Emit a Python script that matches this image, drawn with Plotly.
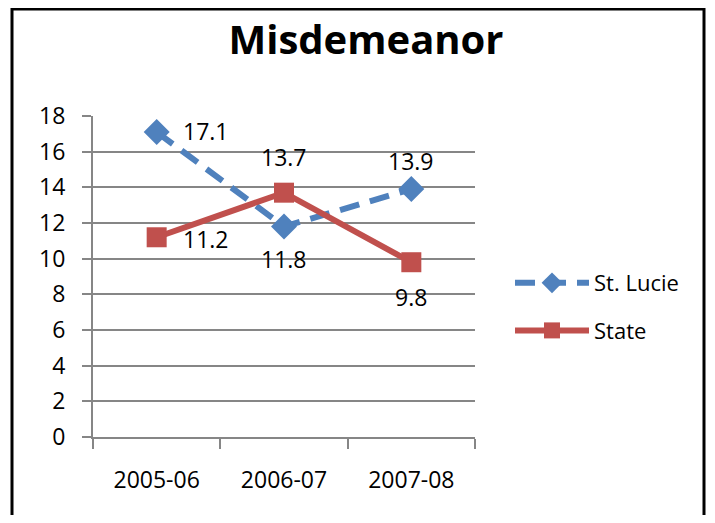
import plotly.graph_objects as go

categories = ["2005-06", "2006-07", "2007-08"]
st_lucie = [17.1, 11.8, 13.9]
state = [11.2, 13.7, 9.8]
y_ticks = [0, 2, 4, 6, 8, 10, 12, 14, 16, 18]

BLUE = "#4F81BD"
RED = "#C0504D"
GRID = "#868686"
FONT = "Open Sans"

OFF = 8  # page body margin
W, H = 715 - 2 * OFF, 523 - 2 * OFF

fig = go.Figure()
fig.add_trace(go.Scatter(
    x=categories, y=st_lucie, name="St. Lucie", mode="lines+markers",
    line=dict(color=BLUE, width=6, dash="20px,11px"),
    marker=dict(symbol="diamond", size=20, color=BLUE),
    legendgroup="a",
))
fig.add_trace(go.Scatter(
    x=categories, y=state, name="State", mode="lines+markers",
    line=dict(color=RED, width=6),
    marker=dict(symbol="square", size=20, color=RED),
    legendgroup="b",
))

# data labels: (xshift, yshift, anchor)
lucie_pos = [(24, 1, "left"), (0, -32, "center"), (0, 28, "center")]
state_pos = [(24, -2, "left"), (0, 36, "center"), (0, -35, "center")]
for vals, poss in ((st_lucie, lucie_pos), (state, state_pos)):
    for c, v, (dx, dy, anc) in zip(categories, vals, poss):
        fig.add_annotation(x=c, y=v, text=f"{v:.1f}", showarrow=False,
                           xshift=dx, yshift=dy, xanchor=anc,
                           font=dict(family=FONT, size=23, color="black"))

# plot area in reference pixel coordinates, shifted by page margin
L, R, T, B = 93 - OFF, 475 - OFF, 116 - OFF, 437 - OFF
def px2x(p):
    return (p - OFF - L) / (R - L)
def py2y(p):
    return (B - (p - OFF)) / (B - T)

fig.add_shape(type="rect", xref="paper", yref="paper",
              x0=px2x(12), x1=px2x(OFF + W - 3), y0=py2y(600), y1=py2y(OFF + 1),
              line=dict(color="black", width=3), layer="below")

fig.update_layout(
    width=W, height=H,
    margin=dict(l=L, r=W - R, t=T, b=H - B),
    paper_bgcolor="white", plot_bgcolor="white",
    title=dict(text="<b>Misdemeanor</b>", x=(366 - OFF) / W,
               xanchor="center", y=1 - (40 - OFF) / H, yanchor="middle",
               font=dict(family=FONT, size=40, color="black")),
    showlegend=True,
    legend=dict(x=px2x(510), y=py2y(262), xanchor="left", yanchor="top",
                font=dict(family=FONT, size=22, color="black"),
                traceorder="grouped", tracegroupgap=16, itemwidth=74,
                bgcolor="rgba(0,0,0,0)"),
    font=dict(family=FONT, size=22, color="black"),
)
fig.update_xaxes(
    type="category", range=[-0.5, 2.5], showgrid=False,
    showline=True, linecolor=GRID, linewidth=2,
    ticks="outside", tickson="boundaries", ticklen=10, tickwidth=2, tickcolor=GRID,
    tickfont=dict(family=FONT, size=23, color="black"), ticklabelstandoff=21,
)
fig.update_yaxes(
    range=[0, 18], tickvals=y_ticks, showgrid=True, gridcolor=GRID, gridwidth=2,
    showline=True, linecolor=GRID, linewidth=2, zeroline=False,
    ticks="outside", ticklen=9, tickwidth=2, tickcolor=GRID,
    tickfont=dict(family=FONT, size=23, color="black"), ticklabelstandoff=12,
)
fig.write_html("out.html")
